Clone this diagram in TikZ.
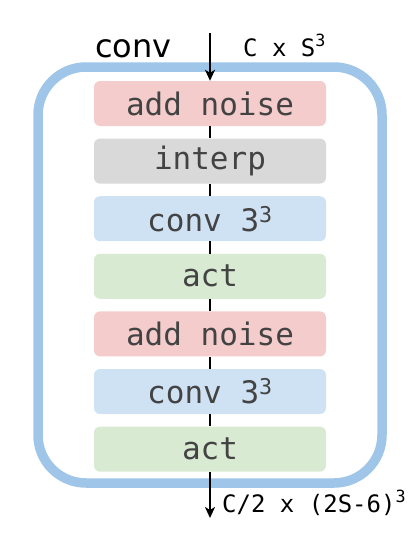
\documentclass[tikz,border=0pt]{standalone}
\usepackage{fontspec}
\setmainfont{DejaVu Sans}
\setmonofont{DejaVu Sans Mono}
\usetikzlibrary{arrows.meta}
\definecolor{noisered}{HTML}{F4CCCC}
\definecolor{interpgrey}{HTML}{D9D9D9}
\definecolor{convblue}{HTML}{CFE2F3}
\definecolor{actgreen}{HTML}{D9EAD3}
\definecolor{frameblue}{HTML}{9FC5E8}
\definecolor{txtgrey}{HTML}{434343}

\begin{document}
\begin{tikzpicture}[x=1pt,y=-1pt]
\useasboundingbox (0,0) rectangle (415,538);
\tikzset{blk/.style={rounded corners=6pt,minimum width=232pt,minimum height=45pt,
  inner sep=0pt,text=txtgrey,font=\fontsize{31}{31}\selectfont\ttfamily},
  flow/.style={line width=2pt,black}}

% outer block
\draw[frameblue,line width=9.5pt,rounded corners=48pt] (38,67) rectangle (382,483);

\foreach \name/\txt/\col [count=\i] in {noisea/add noise/noisered,
  interp/interp/interpgrey, conva/conv 3\textsuperscript{3}/convblue,
  acta/act/actgreen, noiseb/add noise/noisered,
  convb/conv 3\textsuperscript{3}/convblue, actb/act/actgreen} {
  \node[blk,fill=\col] (\name) at (210,{103.5+57.6*(\i-1)}) {\txt};
}

\coordinate (in) at (210,33);
\coordinate (out) at (210,518);
\draw[flow,-{Stealth[length=11pt,width=10pt,inset=3pt]}] (in) -- (noisea.north);
\draw[flow] (noisea) -- (interp);
\draw[flow] (interp) -- (conva);
\draw[flow] (conva) -- (acta);
\draw[flow] (acta) -- (noiseb);
\draw[flow] (noiseb) -- (convb);
\draw[flow] (convb) -- (actb);
\draw[flow,-{Stealth[length=11pt,width=10pt,inset=3pt]}] (actb.south) -- (out);

\node[anchor=base west,inner sep=0pt,font=\fontsize{32}{32}\selectfont] (title) at (95,57) {conv};
\node[anchor=base west,inner sep=0pt,font=\fontsize{24}{24}\selectfont\ttfamily] (insize) at (243,56) {C x S\textsuperscript{3}};
\node[anchor=base west,inner sep=0pt,font=\fontsize{24}{24}\selectfont\ttfamily] (outsize) at (222,512) {C/2 x (2S-6)\textsuperscript{3}};
\end{tikzpicture}
\end{document}
